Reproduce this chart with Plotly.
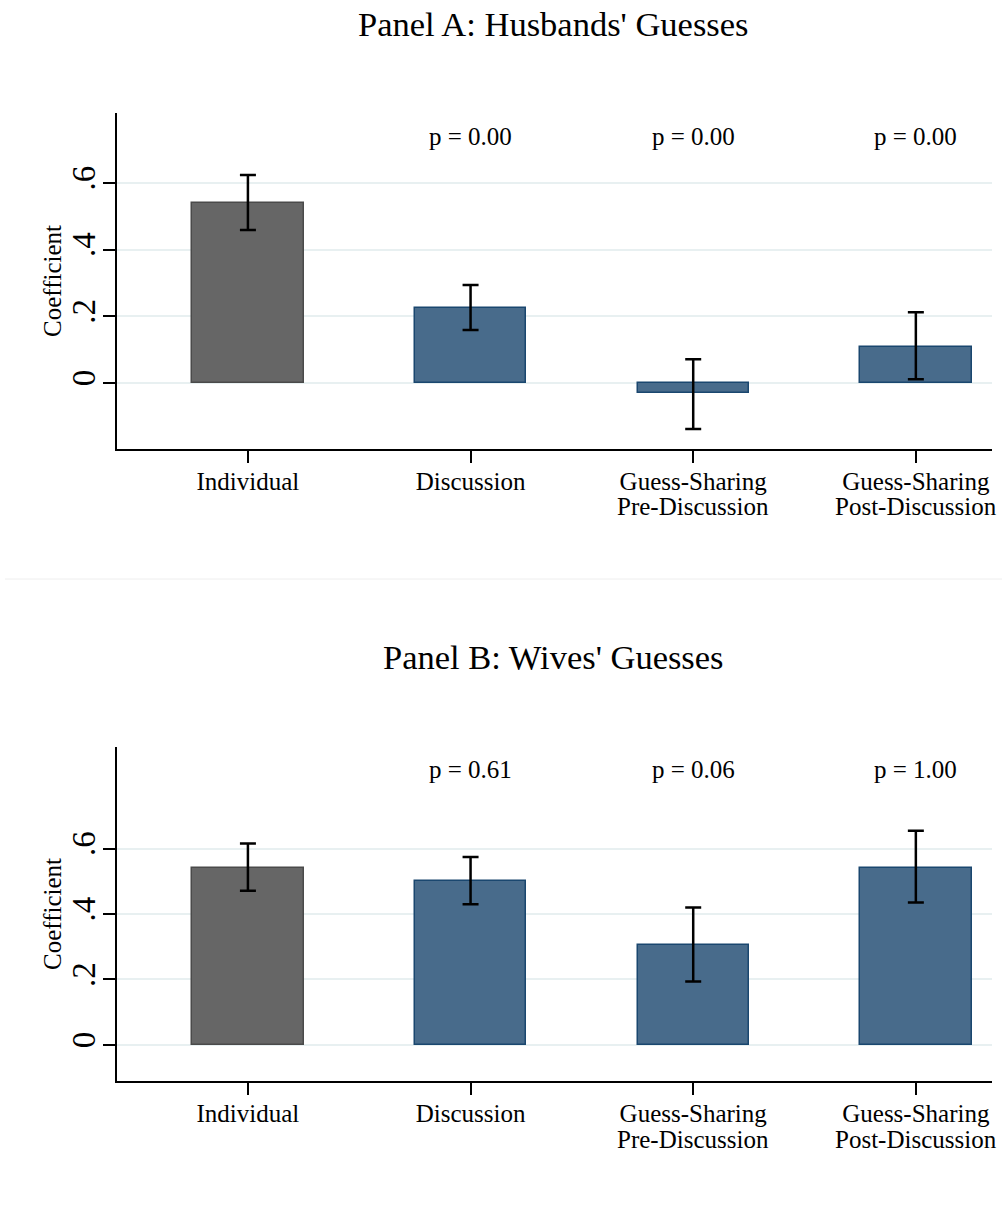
import plotly.graph_objects as go

# ---------------- data ----------------
categories = ["Individual", "Discussion", "Guess-Sharing Pre-Discussion", "Guess-Sharing Post-Discussion"]
tick_labels_line1 = ["Individual", "Discussion", "Guess-Sharing", "Guess-Sharing"]
tick_labels_line2 = ["", "", "Pre-Discussion", "Post-Discussion"]
cat_pos = [1, 2, 3, 4]

husbands_coef = [0.539, 0.224, -0.031, 0.109]
husbands_lo = [0.459, 0.159, -0.138, 0.011]
husbands_hi = [0.624, 0.294, 0.071, 0.212]
husbands_p = ["0.00", "0.00", "0.00"]

wives_coef = [0.542, 0.500, 0.306, 0.541]
wives_lo = [0.471, 0.430, 0.194, 0.435]
wives_hi = [0.615, 0.574, 0.420, 0.654]
wives_p = ["0.61", "0.06", "1.00"]

y_ticks = [0, 0.2, 0.4, 0.6]
y_ticktext = ["0", ".2", ".4", ".6"]

# ---------------- style ----------------
FONT = "Liberation Serif"
fill_colors = ["#666666", "#486b8b", "#486b8b", "#486b8b"]
line_colors = ["#4a4a4a", "#1a476f", "#1a476f", "#1a476f"]
GRID = "#e8f0f1"
W, H = 1002, 1206

def px_x(p):
    return p / W

def px_y(p):
    return 1 - p / H

fig = go.Figure()

panels = [
    (husbands_coef, husbands_lo, husbands_hi, "x", "y"),
    (wives_coef, wives_lo, wives_hi, "x2", "y2"),
]
for coef, lo, hi, xa, ya in panels:
    fig.add_trace(go.Bar(
        x=cat_pos, y=coef, width=0.5,
        xaxis=xa, yaxis=ya,
        marker=dict(color=fill_colors, line=dict(color=line_colors, width=1.5)),
        error_y=dict(
            type="data", symmetric=False,
            array=[h - c for h, c in zip(hi, coef)],
            arrayminus=[c - l for c, l in zip(coef, lo)],
            color="black", thickness=2.5, width=8,
        ),
        hovertext=categories,
        showlegend=False,
    ))

x_dom = [px_x(117), px_x(992)]
axis_common_x = dict(
    range=[0.412, 4.342], tickvals=cat_pos, ticktext=tick_labels_line1,
    showline=True, linecolor="black", linewidth=2,
    ticks="outside", ticklen=12, tickwidth=2, tickcolor="black",
    ticklabelstandoff=-3,
    showgrid=False, zeroline=False,
    tickfont=dict(family=FONT, size=25, color="black"),
    domain=x_dom,
)
axis_common_y = dict(
    tickvals=y_ticks, ticktext=y_ticktext, tickangle=-90,
    showline=True, linecolor="black", linewidth=2,
    ticks="outside", ticklen=12, tickwidth=2, tickcolor="black",
    ticklabelstandoff=-5,
    showgrid=True, gridcolor=GRID, gridwidth=2, zeroline=False,
    tickfont=dict(family=FONT, size=33, color="black"),
)

fig.update_layout(
    width=W, height=H,
    margin=dict(l=0, r=0, t=0, b=0),
    paper_bgcolor="white", plot_bgcolor="white",
    font=dict(family=FONT, color="black"),
    bargap=0,
    xaxis=dict(**axis_common_x, anchor="y"),
    yaxis=dict(**axis_common_y, anchor="x", range=[-0.198, 0.81],
               domain=[px_y(449), px_y(113)]),
    xaxis2=dict(**axis_common_x, anchor="y2"),
    yaxis2=dict(**axis_common_y, anchor="x2", range=[-0.11, 0.91],
                domain=[px_y(1081), px_y(747)]),
)

annotations = [
    dict(text="Panel A: Husbands' Guesses", x=px_x(553), y=px_y(24), xref="paper", yref="paper",
         showarrow=False, xanchor="center", yanchor="middle",
         font=dict(family=FONT, size=34.5, color="black")),
    dict(text="Panel B: Wives' Guesses", x=px_x(553), y=px_y(657), xref="paper", yref="paper",
         showarrow=False, xanchor="center", yanchor="middle",
         font=dict(family=FONT, size=34.5, color="black")),
]
# y-axis titles
for ymid in ((113 + 449) / 2, (747 + 1081) / 2):
    annotations.append(dict(text="Coefficient", x=px_x(52), y=px_y(ymid), xref="paper", yref="paper",
                            textangle=-90, showarrow=False, xanchor="center", yanchor="middle",
                            font=dict(family=FONT, size=25, color="black")))
for pos, p in zip(cat_pos[1:], husbands_p):
    annotations.append(dict(text=f"p = {p}", x=pos, y=0.74, xref="x", yref="y", showarrow=False,
                            font=dict(family=FONT, size=25, color="black")))
for pos, p in zip(cat_pos[1:], wives_p):
    annotations.append(dict(text=f"p = {p}", x=pos, y=0.84, xref="x2", yref="y2", showarrow=False,
                            font=dict(family=FONT, size=25, color="black")))
# second line of the category labels (tighter line spacing than Plotly's <br>)
for xref, ypix in (("x", 507), ("x2", 1139)):
    for pos, t in zip(cat_pos, tick_labels_line2):
        if t:
            annotations.append(dict(text=t, x=pos, y=px_y(ypix), xref=xref, yref="paper",
                                    showarrow=False, xanchor="center", yanchor="middle",
                                    font=dict(family=FONT, size=25, color="black")))
fig.update_layout(annotations=annotations)

fig.add_shape(type="line", xref="paper", yref="paper", x0=px_x(5), x1=1, y0=px_y(579), y1=px_y(579),
              line=dict(color="#eeeeee", width=1))

fig.write_html("out.html", config={"displayModeBar": False},
               post_script="document.body.style.margin='0';")
